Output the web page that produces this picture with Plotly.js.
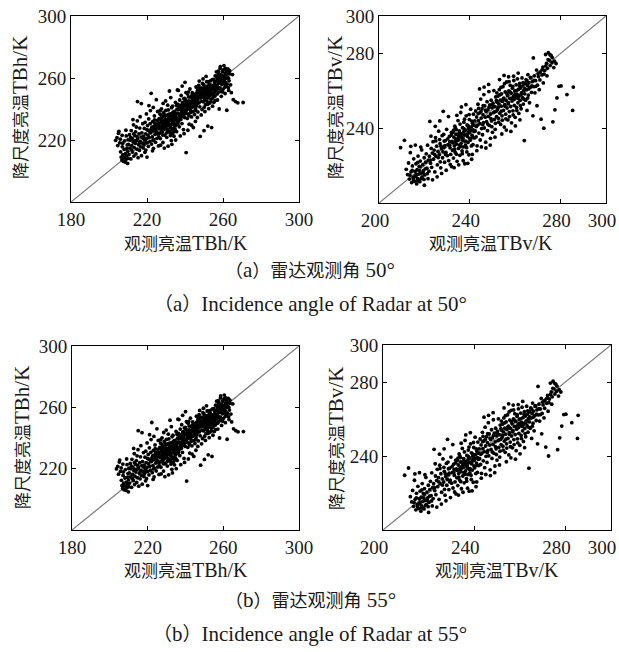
<!DOCTYPE html>
<html>
<head>
<meta charset="utf-8">
<script src="https://cdn.plot.ly/plotly-3.0.1.min.js"></script>
<style>html,body{margin:0;padding:0;background:#fff;}#chart{width:619px;height:652px;}</style>
</head>
<body>
<div id="chart"></div>
<script>
// ---- DATA ----
const rangeH = [180, 300];
const rangeV = [200, 300];
const ticksHx = [180, 220, 260, 300];
const ticksHy = [220, 260, 300];
const ticksVx = [200, 240, 280, 300];
const ticksVy = [240, 280, 300];
const xTitleH = "观测亮温TBh/K";
const yTitleH = "降尺度亮温TBh/K";
const xTitleV = "观测亮温TBv/K";
const yTitleV = "降尺度亮温TBv/K";
const captions = ["（a）雷达观测角 50°", "（a）Incidence angle of Radar at 50°", "（b）雷达观测角 55°", "（b）Incidence angle of Radar at 55°"];

// observed vs downscaled TBh, pairs [observed, downscaled]
const pointsH50 = [
[203.5,219.8],[204.2,221.5],[205.0,224.3],[205.6,218.2],[206.1,212.4],[206.4,209.0],[206.8,207.1],[207.0,215.6],[207.3,210.5],[207.5,206.3],[207.8,208.8],[208.0,213.9],[208.2,219.4],[208.5,205.8],[208.7,211.2],[209.0,207.6],[209.1,222.6],[209.3,209.9],[209.6,216.8],[209.8,204.9],[209.9,212.7],[210.0,220.1],[205.2,225.6],[206.9,223.0],[208.9,226.3],[210.0,208.2],[207.2,217.9],[206.0,220.5],[204.6,216.4],[209.4,214.5],
[210.3,217.2],[210.5,210.6],[210.8,223.4],[211.0,214.8],[211.2,219.9],[211.5,207.8],[211.7,226.1],[212.0,216.3],[212.2,221.0],[212.4,212.2],[212.7,218.7],[212.9,229.8],[213.1,209.6],[213.3,215.1],[213.6,222.8],[213.8,217.8],[214.0,225.3],[214.2,211.0],[214.5,219.6],[214.7,214.0],[214.9,232.4],[215.1,220.8],[215.3,208.6],[215.6,217.0],[215.8,223.9],[216.0,213.4],[216.2,227.7],[216.5,219.1],[216.7,215.6],[216.9,221.9],[217.1,209.9],[217.3,224.6],[217.6,218.0],[217.8,230.5],[218.0,214.9],[211.4,221.6],[213.0,224.0],[215.0,244.8],[217.0,243.5],[212.6,233.2],[214.4,228.4],[216.4,235.0],
[218.2,222.3],[218.4,216.8],[218.6,227.5],[218.8,219.6],[219.0,231.4],[219.2,224.0],[219.4,213.5],[219.6,220.8],[219.9,226.7],[220.1,218.2],[220.3,229.3],[220.5,223.1],[220.7,215.9],[220.9,233.6],[221.1,221.5],[221.3,226.0],[221.5,219.0],[221.8,239.0],[222.0,224.6],[222.2,250.1],[222.4,217.4],[222.6,228.3],[222.8,222.0],[223.0,231.9],[223.2,225.8],[223.4,214.6],[223.6,220.3],[223.9,235.5],[224.1,227.2],[224.3,223.7],[224.5,218.5],[224.7,229.9],[224.9,246.0],[225.1,225.0],[225.3,221.1],[225.5,232.6],[225.8,227.8],[226.0,216.2],[219.7,236.8],[221.0,242.2],[223.3,241.0],[225.6,238.4],[220.0,209.0],[222.9,213.0],[218.9,212.1],[224.0,233.0],[226.0,230.5],[221.7,230.6],[223.7,228.9],[225.0,228.0],
[226.2,229.0],[226.4,233.8],[226.6,224.4],[226.8,236.7],[227.0,220.9],[227.2,231.2],[227.4,227.0],[227.6,240.1],[227.8,225.6],[228.0,234.6],[228.2,229.8],[228.4,218.4],[228.6,232.3],[228.8,237.8],[229.0,226.8],[229.2,230.9],[229.4,223.2],[229.6,235.4],[229.8,245.2],[230.0,228.4],[230.2,233.0],[230.4,221.7],[230.6,236.1],[230.8,231.6],[231.0,226.1],[231.2,239.4],[231.4,229.2],[231.6,234.3],[231.8,251.6],[232.0,224.8],[232.2,232.7],[232.4,228.1],[232.6,237.0],[232.8,219.6],[233.0,233.9],[233.2,230.3],[233.4,241.8],[233.6,227.5],[233.8,235.7],[234.0,231.5],[234.2,222.5],[234.4,238.5],[234.6,233.1],[234.8,228.9],[235.0,244.3],[235.2,235.2],[235.4,230.0],[235.6,225.4],[235.8,239.9],[236.0,233.6],[227.1,216.6],[229.1,214.8],[231.1,216.0],[233.1,217.2],[235.1,220.0],[228.5,243.6],[232.5,247.4],[236.0,252.3],[226.9,238.9],[230.9,242.5],[234.9,226.6],[229.5,233.2],[231.5,236.6],[233.5,224.2],[230.1,230.2],[232.1,229.7],[234.1,236.4],[227.9,230.5],[228.9,227.9],[235.9,231.8],
[236.2,237.4],[236.4,243.0],[236.6,232.1],[236.8,239.6],[237.0,228.5],[237.2,245.8],[237.4,236.0],[237.6,241.2],[237.8,233.3],[238.0,248.7],[238.2,238.9],[238.4,230.6],[238.6,243.9],[238.8,236.6],[239.0,240.8],[239.2,226.7],[239.4,246.6],[239.6,239.2],[239.8,234.5],[240.0,257.2],[240.2,242.4],[240.4,237.1],[240.6,211.9],[240.8,244.9],[241.0,239.7],[241.2,233.9],[241.4,249.7],[241.6,241.9],[241.8,236.8],[242.0,245.3],[242.2,230.2],[242.4,240.4],[242.6,252.9],[242.8,243.1],[243.0,237.7],[243.2,247.4],[243.4,234.9],[243.6,241.0],[243.8,250.5],[244.0,244.2],[244.2,238.3],[244.4,228.0],[244.6,246.8],[244.8,242.6],[245.0,236.4],[245.2,249.0],[245.4,244.5],[245.6,240.0],[245.8,254.2],[246.0,246.3],[236.5,252.0],[238.5,254.8],[240.5,250.6],[237.5,222.6],[239.5,224.1],[241.5,226.3],[243.5,229.5],[245.5,232.0],[236.9,241.3],[238.9,244.1],[240.9,241.6],[242.9,239.0],[244.9,247.9],[237.3,235.0],[239.3,237.9],[241.3,243.6],[243.3,244.9],[245.3,238.9],[246.0,242.0],[242.1,235.6],
[246.2,249.4],[246.4,243.5],[246.6,252.1],[246.8,238.1],[247.0,247.0],[247.2,255.3],[247.4,244.0],[247.6,250.2],[247.8,241.4],[248.0,222.3],[248.2,248.3],[248.4,253.6],[248.6,245.1],[248.8,251.0],[249.0,239.6],[249.2,256.5],[249.4,247.7],[249.6,244.6],[249.8,252.7],[250.0,226.0],[250.2,249.9],[250.4,245.9],[250.6,254.4],[250.8,242.8],[251.0,251.5],[251.2,248.0],[251.4,257.6],[251.6,244.9],[251.8,250.8],[252.0,229.0],[252.2,253.2],[252.4,247.3],[252.6,255.7],[252.8,243.7],[253.0,251.9],[253.2,248.8],[253.4,258.2],[253.6,246.4],[253.8,253.0],[254.0,228.0],[254.2,250.1],[254.4,255.0],[254.6,247.1],[254.8,252.4],[255.0,259.1],[255.2,244.3],[255.4,250.6],[255.6,256.3],[255.8,248.4],[256.0,253.8],[246.5,234.5],[248.5,236.2],[250.5,238.4],[252.5,240.2],[254.5,241.8],[247.5,258.0],[249.5,259.4],[251.1,261.0],[246.9,253.0],[248.9,248.6],[250.9,253.6],[252.9,250.0],[254.9,249.0],[247.3,247.9],[249.3,250.6],[251.3,246.2],[253.3,254.1],[255.3,253.5],[255.9,245.5],[250.1,254.9],
[256.2,258.0],[256.4,252.4],[256.6,261.2],[256.8,255.2],[257.0,249.7],[257.2,259.6],[257.4,254.0],[257.6,262.8],[257.8,256.6],[258.0,240.0],[258.2,260.4],[258.4,253.6],[258.6,267.4],[258.8,257.6],[259.0,251.4],[259.2,261.7],[259.4,255.8],[259.6,263.9],[259.8,258.6],[260.0,252.8],[260.2,260.8],[260.4,256.4],[260.6,265.6],[260.8,258.9],[261.0,254.1],[261.2,262.0],[261.4,257.2],[261.6,259.9],[261.8,264.3],[262.0,239.2],[262.2,256.0],[262.4,260.6],[262.8,253.8],[263.2,258.2],[263.6,262.6],[264.0,255.6],[264.4,250.5],[265.0,262.2],[265.4,246.0],[266.6,244.8],[267.8,244.0],[270.6,244.2],[257.1,245.8],[259.1,248.2],[261.1,250.0],[256.5,264.0],[258.5,266.2],[260.5,268.0],[262.6,265.8],[263.0,252.0],
[224.5,226.3],[225.2,230.1],[225.9,223.7],[226.5,227.4],[227.3,233.1],[227.7,228.6],[228.1,225.1],[228.7,231.5],[229.3,236.2],[229.7,228.9],[230.3,232.2],[230.7,226.9],[231.3,233.6],[231.7,230.4],[232.3,235.5],[232.7,226.4],[233.3,232.1],[233.7,238.0],[234.3,229.9],[234.7,234.8],[235.3,237.2],[235.7,232.7],[236.3,230.3],[236.7,236.9],[237.3,240.4],[237.7,234.4],[238.3,237.5],[238.7,241.5],[239.3,235.3],[239.7,243.0],[226.3,221.8],[228.3,223.2],[230.3,224.6],[232.3,222.9],[234.3,225.6],[227.5,236.0],[229.9,239.1],[232.9,240.8],[235.5,242.4],[221.6,224.8],[222.3,227.1],[223.1,219.8],[224.2,230.8],[219.3,218.1],[220.6,226.2],[217.9,221.1],[216.1,218.4],[214.8,222.1],[213.4,219.5],[211.9,213.6],
[240.3,245.6],[241.1,242.7],[241.9,247.8],[242.7,244.4],[243.5,248.4],[244.3,241.6],[245.1,246.0],[245.9,250.3],[246.7,245.0],[247.5,251.7],[248.3,247.2],[249.1,253.0],[249.9,248.2],[250.7,251.8],[251.5,254.5],[252.3,250.7],[253.1,256.1],[253.9,249.6],[254.7,254.0],[255.5,257.4],[256.3,255.0],[257.1,258.6],[257.9,253.0],[258.7,259.3],[259.5,261.0],[260.3,257.5],[261.1,262.8],[261.5,255.2],[259.9,264.9],[258.3,262.1],[257.5,264.4],[256.9,260.0],[255.9,261.4],[254.3,258.9],[253.5,252.0],[252.1,257.7],[251.7,249.3],[250.3,247.0],[249.7,255.8],[248.1,250.0],[247.3,253.2],[246.1,248.0],[245.7,243.4],[244.5,249.4],[243.9,245.6],[242.3,242.0],[241.7,250.9],[240.7,239.1],[239.9,246.9],[238.1,242.3],[262.3,262.9],[262.9,259.9],[263.5,264.7],[261.3,266.2],[259.7,251.0],[257.7,250.9],[255.7,251.5],[253.7,244.7],[251.9,243.0],[250.1,241.2]
];

// observed vs downscaled TBv, pairs [observed, downscaled]
const pointsV50 = [
[209.5,229.6],[211.2,233.5],[212.0,218.0],[212.6,215.2],[213.0,221.4],[213.4,212.8],[213.8,226.9],[214.1,216.6],[214.4,210.9],[214.7,219.8],[215.0,213.7],[215.3,223.6],[215.6,211.6],[215.9,216.9],[216.1,214.2],[216.3,221.0],[216.6,210.2],[216.8,217.8],[217.0,213.0],[217.2,225.1],[217.5,215.4],[217.7,219.6],[218.0,211.4],[218.2,222.4],[218.5,216.0],[218.8,228.4],[219.0,213.9],[219.3,220.5],[219.6,217.3],[219.9,224.2],[220.2,215.0],[220.5,221.8],[220.8,226.3],[221.1,218.6],[221.4,230.9],[221.7,222.9],[222.0,217.0],[214.0,230.3],[216.0,231.0],[218.4,229.9],[220.0,209.5],[221.6,213.0],
[222.2,225.0],[222.4,243.6],[222.7,221.3],[223.0,229.2],[223.2,219.1],[223.5,226.7],[223.8,232.8],[224.0,223.4],[224.3,228.3],[224.6,216.6],[224.9,235.0],[225.1,224.9],[225.4,230.4],[225.7,220.4],[226.0,227.6],[226.3,238.4],[226.6,225.9],[226.9,231.7],[227.2,218.8],[227.5,228.9],[227.8,236.0],[228.0,224.2],[228.3,249.0],[228.6,229.8],[228.9,221.8],[229.2,233.4],[229.5,227.0],[229.8,239.4],[230.1,225.3],[230.4,231.2],[230.7,222.7],[231.0,235.6],[231.3,229.5],[231.6,226.0],[231.9,237.7],[232.0,219.5],[223.6,212.4],[225.6,214.0],[227.6,215.8],[229.6,217.5],[231.4,220.6],[224.8,241.0],[226.8,243.9],[230.6,246.2],[222.9,235.8],[225.0,233.2],[227.0,222.0],[229.0,230.7],[231.2,232.8],[228.2,227.3],
[232.2,233.0],[232.4,228.2],[232.6,237.8],[232.8,224.0],[233.0,235.2],[233.2,230.5],[233.4,241.1],[233.6,227.0],[233.8,234.0],[234.0,239.2],[234.2,231.5],[234.4,222.3],[234.6,236.6],[234.8,244.1],[235.0,229.2],[235.2,233.8],[235.4,238.6],[235.6,225.5],[235.8,235.9],[236.0,248.4],[236.2,231.9],[236.4,237.1],[236.6,227.8],[236.8,240.3],[237.0,234.6],[237.2,230.0],[237.4,243.2],[237.6,236.3],[237.8,221.0],[238.0,238.9],[238.2,233.1],[238.4,246.6],[238.6,229.6],[238.8,241.7],[239.0,236.9],[239.2,232.4],[239.4,239.9],[239.6,225.8],[239.8,244.6],[240.0,237.6],[240.2,233.6],[240.4,250.2],[240.6,240.7],[240.8,223.4],[241.0,236.2],[241.2,242.6],[241.4,231.2],[241.6,247.5],[241.8,238.2],[242.0,234.8],[233.1,218.9],[235.1,220.4],[237.1,222.6],[239.1,221.2],[241.1,226.0],[234.3,246.9],[236.3,251.4],[238.3,252.6],[232.9,238.9],[234.9,235.0],[236.9,233.5],[238.9,235.7],[240.9,243.8],[233.5,232.6],[235.5,231.0],[237.5,239.6],[239.5,238.0],[241.5,239.1],[236.1,236.0],[238.1,230.8],
[242.2,243.9],[242.4,238.5],[242.6,249.2],[242.8,235.4],[243.0,246.0],[243.2,230.6],[243.4,241.6],[243.6,252.8],[243.8,244.0],[244.0,237.4],[244.2,248.1],[244.4,242.4],[244.6,233.7],[244.8,255.6],[245.0,245.4],[245.2,239.8],[245.4,250.4],[245.6,236.5],[245.8,247.2],[246.0,243.0],[246.2,258.0],[246.4,240.1],[246.6,251.9],[246.8,245.9],[247.0,232.5],[247.2,248.9],[247.4,243.5],[247.6,254.2],[247.8,238.7],[248.0,249.8],[248.2,246.3],[248.4,259.6],[248.6,241.5],[248.8,252.4],[249.0,231.0],[249.2,247.6],[249.4,255.0],[249.6,243.9],[249.8,250.9],[250.0,237.8],[250.2,253.4],[250.4,248.3],[250.6,260.1],[250.8,244.7],[251.0,251.5],[251.2,239.4],[251.4,256.7],[251.6,249.0],[251.8,246.2],[252.0,253.9],[243.1,228.0],[245.1,230.0],[247.1,229.4],[249.1,234.6],[251.1,235.2],[244.3,261.0],[246.3,262.0],[248.3,263.4],[243.7,247.8],[245.7,241.9],
[252.2,250.0],[252.4,257.2],[252.6,245.3],[252.8,253.0],[253.0,260.6],[253.2,248.0],[253.4,255.0],[253.6,242.0],[253.8,251.8],[254.0,258.4],[254.2,246.6],[254.4,254.3],[254.6,262.2],[254.8,249.5],[255.0,256.1],[255.2,240.6],[255.4,252.6],[255.6,259.4],[255.8,247.5],[256.0,254.8],[256.2,264.7],[256.4,250.8],[256.6,257.5],[256.8,244.4],[257.0,253.7],[257.2,260.0],[257.4,248.9],[257.6,256.0],[257.8,262.9],[258.0,251.6],[258.2,258.7],[258.4,242.9],[258.6,254.5],[258.8,261.4],[259.0,249.3],[259.2,257.0],[259.4,265.5],[259.6,252.2],[259.8,259.9],[260.0,245.8],[260.2,256.5],[260.4,263.2],[260.6,251.1],[260.8,258.2],[261.0,266.4],[261.2,253.6],[261.4,260.7],[261.6,247.9],[261.8,257.6],[262.0,264.0],[262.2,254.9],[262.4,261.5],[262.6,250.4],[262.8,259.0],[263.0,266.9],[263.2,256.4],[263.4,262.6],[263.6,252.9],[263.8,260.2],[264.0,233.4],[253.1,266.0],[255.1,268.2],[257.1,267.5],[254.1,236.9],[256.1,239.0],[258.1,238.3],[260.1,241.2],[262.1,244.5],[259.5,255.4],[261.5,256.9],
[264.2,258.4],[264.4,263.8],[264.6,255.0],[264.8,266.0],[265.0,260.5],[265.2,249.5],[265.4,262.9],[265.6,268.6],[265.8,257.7],[266.0,264.3],[266.3,253.6],[266.6,261.8],[266.9,266.9],[267.2,259.2],[267.5,264.9],[267.8,246.6],[268.1,262.2],[268.4,268.0],[268.7,258.9],[269.0,265.4],[269.4,271.1],[269.8,263.0],[270.2,267.6],[270.6,260.6],[271.0,270.0],[271.4,244.8],[271.8,268.5],[272.2,272.7],[272.6,240.0],[273.0,270.8],[273.4,279.4],[273.8,274.6],[274.2,272.0],[274.6,280.4],[275.0,276.3],[275.4,273.5],[275.8,278.9],[276.2,275.0],[276.6,243.4],[277.0,272.4],[277.5,249.8],[278.0,274.6],[278.4,256.2],[279.3,262.4],[280.2,262.6],[282.8,258.0],[285.6,262.0],[285.3,249.5],[268.0,277.6],[272.4,264.2],[269.6,252.0],[274.0,268.0],
[215.2,212.5],[216.4,215.1],[217.4,211.9],[217.9,217.3],[218.6,213.2],[219.4,216.1],[216.9,212.0],[215.8,214.4],[218.1,219.4],[219.8,212.6],[220.4,218.3],[221.3,215.7],[214.6,217.4],[213.6,214.9],[217.1,221.7],
[230.3,234.3],[231.1,230.9],[231.9,236.3],[232.5,232.2],[233.3,228.6],[233.9,236.8],[234.5,233.4],[235.3,237.4],[235.9,230.1],[236.5,234.9],[237.3,238.0],[237.9,232.7],[238.5,236.6],[239.3,241.2],[239.9,234.6],[240.5,238.9],[241.3,235.0],[241.9,241.5],[234.1,226.1],[236.7,226.4],[238.7,227.3],[240.7,230.5],[233.7,240.0],[235.7,242.2],[237.7,244.8],[239.7,247.3],[228.7,233.1],[229.3,226.0],[227.3,230.4],[226.1,224.3],[224.5,226.0],[222.6,222.9],[226.7,233.9],[228.5,236.7],
[248.5,251.2],[249.3,245.1],[250.1,252.5],[250.9,248.7],[251.7,254.8],[252.5,251.1],[253.3,257.9],[253.9,249.1],[254.7,255.6],[255.5,251.7],[256.3,258.6],[256.9,253.0],[257.7,259.4],[258.3,255.9],[258.9,262.3],[259.7,257.8],[260.5,260.1],[261.1,256.0],[261.9,262.6],[262.7,258.1],[263.5,264.4],[264.3,261.2],[265.1,265.3],[265.9,261.0],[266.7,267.2],[267.3,262.6],[268.3,265.6],[269.1,262.4],[270.1,269.1],[270.9,265.8],[271.9,271.2],[272.7,268.9],[273.5,273.3],[274.5,276.6],[275.3,279.3],[276.3,277.8],[277.3,275.9],[265.5,256.1],[263.9,255.5],[262.3,252.1],[260.7,249.4],[259.1,247.1],[257.5,246.2],[255.9,245.0],[254.3,244.3],[252.7,243.2],[251.3,242.6],[249.7,240.8],[247.9,242.2],[246.9,249.7],[245.9,252.1],[244.9,248.9],[243.9,250.6],[242.9,240.9],[251.9,258.9],[253.7,261.8],[255.3,263.8],[257.3,264.9],[259.3,267.8],[261.3,269.5]
];

// the 55° panels look the same as the 50° panels in the picture
const pointsH55 = pointsH50;
const pointsV55 = pointsV50;

// ---- BUILD ----
const FONT = "Liberation Serif, Noto Sans CJK SC, serif";
const TXT = '#1a1a1a';

function scatter(pts, xa, ya) {
  return {
    type: 'scatter', mode: 'markers', xaxis: xa, yaxis: ya,
    x: pts.map(p => p[0]), y: pts.map(p => p[1]),
    marker: {color: '#000', size: 3.8}, hoverinfo: 'skip', showlegend: false
  };
}
function diag(r, xa, ya) {
  return {
    type: 'scatter', mode: 'lines', xaxis: xa, yaxis: ya,
    x: r, y: r, line: {color: '#7a7a7a', width: 1.2}, hoverinfo: 'skip', showlegend: false
  };
}

const data = [
  diag(rangeH, 'x', 'y'), scatter(pointsH50, 'x', 'y'),
  diag(rangeV, 'x2', 'y2'), scatter(pointsV50, 'x2', 'y2'),
  diag(rangeH, 'x3', 'y3'), scatter(pointsH55, 'x3', 'y3'),
  diag(rangeV, 'x4', 'y4'), scatter(pointsV55, 'x4', 'y4')
];

const W = 619, H = 652;
function ax(domainPx, range, vals, anchor, isY, shift) {
  const d = isY ? [1 - domainPx[1] / H, 1 - domainPx[0] / H] : [domainPx[0] / W, domainPx[1] / W];
  return {
    domain: d, range: range, anchor: anchor,
    showgrid: false, zeroline: false, showline: true, linecolor: '#000', linewidth: 1,
    mirror: 'ticks', ticks: 'inside', ticklen: 4, tickcolor: '#000',
    tickmode: 'array', tickvals: vals, ticktext: vals.map(String),
    ticklabeloverflow: 'allow', ticklabelshift: shift || 0,
    tickfont: {family: FONT, size: 19, color: TXT}, fixedrange: true
  };
}

// CJK runs a little smaller than the Latin text, as in the reference typesetting
function mixed(text, cjkSize) {
  return text.replace(/([\u3000-\u9fff\uff00-\uffef]+)/g, '<span style="font-size:' + cjkSize + 'px">$1</span>');
}
function ann(text, xpx, ypx, size, rot, cjk) {
  return {
    text: mixed(text, cjk), xref: 'paper', yref: 'paper', x: xpx / W, y: 1 - ypx / H,
    xanchor: 'center', yanchor: 'middle', showarrow: false, textangle: rot || 0,
    font: {family: FONT, size: size, color: TXT}
  };
}

const layout = {
  width: W, height: H, margin: {l: 0, r: 0, t: 0, b: 0},
  paper_bgcolor: '#fff', plot_bgcolor: '#fff', showlegend: false,
  xaxis: ax([71, 299], rangeH, ticksHx, 'y', false),
  yaxis: ax([16, 202], rangeH, ticksHy, 'x', true),
  xaxis2: ax([379, 606], rangeV, ticksVx, 'y2', false, -4),
  yaxis2: ax([16, 203], rangeV, ticksVy, 'x2', true),
  xaxis3: ax([72, 299], rangeH, ticksHx, 'y3', false),
  yaxis3: ax([346, 530], rangeH, ticksHy, 'x3', true),
  xaxis4: ax([383, 611], rangeV, ticksVx, 'y4', false, -9),
  yaxis4: ax([345, 530], rangeV, ticksVy, 'x4', true),
  annotations: [
    ann(xTitleH, 186, 243, 20, 0, 17), ann(yTitleH, 20, 108, 21, -90, 17),
    ann(xTitleV, 491, 243, 20, 0, 17), ann(yTitleV, 335, 108, 21, -90, 17),
    ann(xTitleH, 186, 570, 20, 0, 17), ann(yTitleH, 22, 438, 21, -90, 17),
    ann(xTitleV, 497, 570, 20, 0, 17), ann(yTitleV, 336, 439, 21, -90, 17),
    ann(captions[0], 310, 270, 21, 0, 18), ann(captions[1], 310, 304, 21, 0, 19),
    ann(captions[2], 310, 600, 21, 0, 18), ann(captions[3], 310, 634, 21, 0, 19)
  ]
};

Plotly.newPlot('chart', data, layout, {displayModeBar: false, staticPlot: true});
</script>
</body>
</html>
